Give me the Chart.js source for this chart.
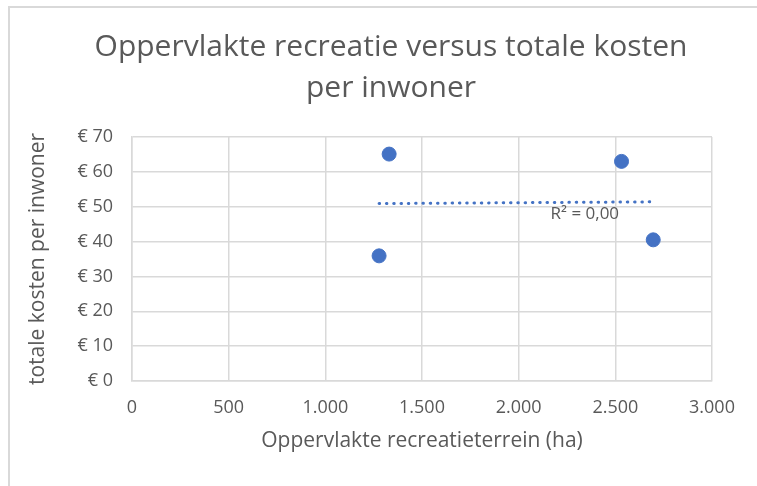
<!DOCTYPE html>
<html>
<head>
<meta charset="utf-8">
<script src="https://cdn.jsdelivr.net/npm/chart.js@4"></script>
<style>
  html, body { margin: 0; padding: 0; background: #fff; }
  #wrap { position: relative; width: 757px; height: 486px; }
  #frame { position: absolute; left: 8px; top: 6px; right: -10px; bottom: -10px; border-left: 2px solid #d9d9d9; border-top: 2px solid #d9d9d9; }
  canvas { position: absolute; left: 0; top: 0; }
</style>
</head>
<body>
<div id="wrap">
  <div id="frame"></div>
  <canvas id="chart" width="757" height="486"></canvas>
</div>
<script>
// oppervlakte recreatieterrein (ha) vs totale kosten per inwoner (EUR)
const area = [1278, 1330, 2532, 2696];
const costs = [35.9, 65.1, 63.0, 40.5];

// linear trendline as drawn in the sheet (start / end)
const trendX = [1278, 2696];
const trendY = [50.9, 51.4];
const rSquared = 'R² = 0,00';

const titleLines = ['Oppervlakte recreatie versus totale kosten', 'per inwoner'];

const xTicks = [0, 500, 1000, 1500, 2000, 2500, 3000];
const yTicks = [0, 10, 20, 30, 40, 50, 60, 70];

const blue = '#4472c4';
const grey = '#595959';
const gridGrey = '#d9d9d9';
const font = "'Open Sans', sans-serif";

const fmtThousands = v => String(v).replace(/\B(?=(\d{3})+(?!\d))/g, '.');

// Excel centres the title over the whole chart frame, not the plot
const chartTitle = {
    id: 'chartTitle',
    afterDraw(chart) {
        const ctx = chart.ctx;
        ctx.save();
        ctx.font = '30px ' + font;
        ctx.fillStyle = grey;
        ctx.textAlign = 'center';
        ctx.textBaseline = 'middle';
        titleLines.forEach((line, i) => ctx.fillText(line, 391, 47 + i * 41));
        ctx.restore();
    }
};

const r2Label = {
    id: 'r2Label',
    afterDatasetsDraw(chart) {
        const { ctx, scales } = chart;
        ctx.save();
        ctx.font = '17px ' + font;
        ctx.fillStyle = grey;
        ctx.textBaseline = 'middle';
        ctx.fillText(rSquared, scales.x.getPixelForValue(2165), scales.y.getPixelForValue(47.8));
        ctx.restore();
    }
};

new Chart(document.getElementById('chart'), {
    type: 'scatter',
    data: {
        datasets: [
            {
                label: 'kosten',
                data: area.map((x, i) => ({ x: x, y: costs[i] })),
                backgroundColor: blue,
                borderColor: blue,
                pointRadius: 7,
                pointHoverRadius: 7,
                order: 1,
            },
            {
                label: 'trend',
                type: 'line',
                data: trendX.map((x, i) => ({ x: x, y: trendY[i] })),
                borderColor: blue,
                borderWidth: 3,
                borderDash: [0.5, 6.8],
                borderCapStyle: 'round',
                pointRadius: 0,
                fill: false,
                order: 2,
            },
        ],
    },
    options: {
        responsive: false,
        animation: false,
        layout: { padding: { left: 20, right: 45, top: 137, bottom: 28 } },
        plugins: {
            legend: { display: false },
            tooltip: { enabled: false },
            title: { display: false },
        },
        scales: {
            x: {
                type: 'linear',
                min: 0,
                max: 3000,
                afterBuildTicks: axis => { axis.ticks = xTicks.map(v => ({ value: v })); },
                afterFit: axis => { axis.height = 77; },
                grid: { color: gridGrey, lineWidth: 1.5, drawTicks: false },
                border: { color: gridGrey, width: 1.5 },
                ticks: {
                    color: grey,
                    font: { family: font, size: 18 },
                    padding: 16,
                    callback: v => fmtThousands(v),
                },
                title: {
                    display: true,
                    text: 'Oppervlakte recreatieterrein (ha)',
                    color: grey,
                    font: { family: font, size: 21 },
                    padding: { top: 4, bottom: 4 },
                },
            },
            y: {
                min: 0,
                max: 70,
                afterBuildTicks: axis => { axis.ticks = yTicks.map(v => ({ value: v })); },
                afterFit: axis => { axis.width = 112; },
                grid: { color: gridGrey, lineWidth: 1.5, drawTicks: false },
                border: { color: gridGrey, width: 1.5 },
                ticks: {
                    color: grey,
                    font: { family: font, size: 18 },
                    padding: 19,
                    callback: v => '€ ' + v,
                },
                title: {
                    display: true,
                    text: 'totale kosten per inwoner',
                    color: grey,
                    font: { family: font, size: 21 },
                    padding: { top: 5, bottom: 4 },
                },
            },
        },
    },
    plugins: [chartTitle, r2Label],
});
</script>
</body>
</html>
